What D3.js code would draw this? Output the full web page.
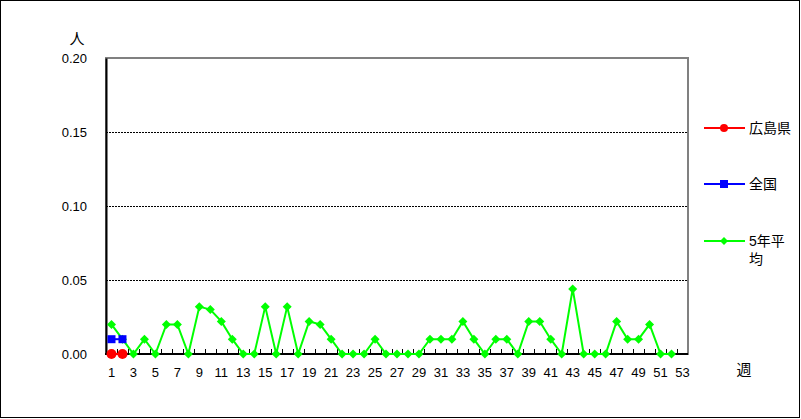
<!DOCTYPE html>
<html>
<head>
<meta charset="utf-8">
<script src="https://cdn.jsdelivr.net/npm/d3@7"></script>
<style>
body { margin: 0; background: #fff; }
text { font-family: "Liberation Sans", "Noto Sans CJK JP", sans-serif; }
</style>
</head>
<body>
<div id="chart"></div>
<script>
var width = 801;
var height = 419;

// data
var weeks = d3.range(1, 54);
var tickWeeks = weeks.filter(function(w) { return w % 2 == 1; });
var yTicks = [0, 0.05, 0.10, 0.15, 0.20];
var hiroshima = [0, 0];
var zenkoku = [0.01, 0.01];
var avg5 = [0.020, 0.010, 0, 0.010, 0, 0.020, 0.020, 0, 0.032, 0.030,
            0.022, 0.010, 0, 0, 0.032, 0, 0.032, 0, 0.022, 0.020,
            0.010, 0, 0, 0, 0.010, 0, 0, 0, 0, 0.010,
            0.010, 0.010, 0.022, 0.010, 0, 0.010, 0.010, 0, 0.022, 0.022,
            0.010, 0, 0.044, 0, 0, 0, 0.022, 0.010, 0.010, 0.020,
            0, 0];
var seriesNames = ["広島県", "全国", "5年平均"];

var plotL = 106, plotR = 688, plotT = 58, plotB = 354;

var svg = d3.select("#chart")
    .append("svg")
    .attr("width", width)
    .attr("height", height);

svg.append("rect")
    .attr("x", 0.5).attr("y", 0.5)
    .attr("width", width - 2).attr("height", height - 2)
    .attr("fill", "#fff").attr("stroke", "#000");

var x = d3.scaleBand()
    .domain(weeks)
    .range([plotL, plotR]);
var y = d3.scaleLinear()
    .domain([0, 0.2])
    .range([plotB, plotT]);

function cx(w) { return x(w) + x.bandwidth() / 2; }

// plot border (top/right grey)
svg.append("rect")
    .attr("x", plotL).attr("y", plotT)
    .attr("width", plotR - plotL).attr("height", plotB - plotT)
    .attr("fill", "none").attr("stroke", "#808080").attr("stroke-width", 2);

// grid lines
svg.append("g")
    .selectAll("line")
    .data(yTicks.slice(1, 4))
    .enter()
    .append("line")
    .attr("x1", plotL).attr("x2", plotR)
    .attr("y1", function(d) { return Math.round(y(d)) + 0.5; })
    .attr("y2", function(d) { return Math.round(y(d)) + 0.5; })
    .attr("stroke", "#000")
    .attr("stroke-dasharray", "2,1");

// y axis
var yAxis = svg.append("g")
    .attr("transform", "translate(" + plotL + ",0)")
    .call(d3.axisLeft(y).tickValues(yTicks).tickFormat(d3.format(".2f")).tickSize(0).tickPadding(19));
yAxis.select(".domain").attr("stroke", "#000").attr("stroke-width", 2);
yAxis.selectAll("text").attr("font-size", 13).attr("fill", "#000");

// x axis
var xAxis = svg.append("g")
    .attr("transform", "translate(0," + plotB + ")")
    .call(d3.axisBottom(x).tickValues(tickWeeks).tickSize(0).tickPadding(14));
xAxis.select(".domain").remove();
xAxis.selectAll("text").attr("font-size", 13).attr("fill", "#000");

svg.append("line")
    .attr("x1", plotL - 1).attr("x2", plotR)
    .attr("y1", plotB).attr("y2", plotB)
    .attr("stroke", "#000").attr("stroke-width", 2);

// minor ticks between categories
svg.append("g")
    .selectAll("line")
    .data(weeks.slice(1))
    .enter()
    .append("line")
    .attr("x1", function(d) { return Math.round(x(d)) + 0.5; })
    .attr("x2", function(d) { return Math.round(x(d)) + 0.5; })
    .attr("y1", plotB)
    .attr("y2", plotB - 5)
    .attr("stroke", "#000");

svg.append("text")
    .attr("x", 77).attr("y", 44)
    .attr("text-anchor", "middle")
    .attr("font-size", 15)
    .text("人");
svg.append("text")
    .attr("x", 744).attr("y", 375)
    .attr("text-anchor", "middle")
    .attr("font-size", 15)
    .text("週");

var line = d3.line()
    .x(function(d, i) { return cx(weeks[i]); })
    .y(function(d) { return y(d); });

// 5-year average
svg.append("path")
    .datum(avg5)
    .attr("d", line)
    .attr("fill", "none")
    .attr("stroke", "#00ff00")
    .attr("stroke-width", 2);
svg.append("g")
    .selectAll("path")
    .data(avg5)
    .enter()
    .append("path")
    .attr("transform", function(d, i) { return "translate(" + cx(weeks[i]) + "," + y(d) + ")"; })
    .attr("d", "M0,-4.5L4.5,0L0,4.5L-4.5,0Z")
    .attr("fill", "#00ff00");

// zenkoku
svg.append("path")
    .datum(zenkoku)
    .attr("d", line)
    .attr("fill", "none")
    .attr("stroke", "#0000ff")
    .attr("stroke-width", 2);
svg.append("g")
    .selectAll("rect")
    .data(zenkoku)
    .enter()
    .append("rect")
    .attr("x", function(d, i) { return cx(weeks[i]) - 4; })
    .attr("y", function(d) { return y(d) - 4; })
    .attr("width", 8).attr("height", 8)
    .attr("fill", "#0000ff");

// hiroshima
svg.append("path")
    .datum(hiroshima)
    .attr("d", line)
    .attr("fill", "none")
    .attr("stroke", "#ff0000")
    .attr("stroke-width", 2);
svg.append("g")
    .selectAll("circle")
    .data(hiroshima)
    .enter()
    .append("circle")
    .attr("cx", function(d, i) { return cx(weeks[i]); })
    .attr("cy", function(d) { return y(d); })
    .attr("r", 5)
    .attr("fill", "#ff0000");

// legend
var legY = [128, 184, 241];
var legColors = ["#ff0000", "#0000ff", "#00ff00"];
var leg = svg.append("g");
seriesNames.forEach(function(name, i) {
    leg.append("line")
        .attr("x1", 704).attr("x2", 745)
        .attr("y1", legY[i]).attr("y2", legY[i])
        .attr("stroke", legColors[i]).attr("stroke-width", 2);
    if (i == 0) {
        leg.append("circle").attr("cx", 724).attr("cy", legY[i]).attr("r", 4).attr("fill", legColors[i]);
    } else if (i == 1) {
        leg.append("rect").attr("x", 720).attr("y", legY[i] - 4).attr("width", 8).attr("height", 8).attr("fill", legColors[i]);
    } else {
        leg.append("path").attr("transform", "translate(724," + legY[i] + ")")
            .attr("d", "M0,-4L4,0L0,4L-4,0Z").attr("fill", legColors[i]);
    }
    var t = leg.append("text")
        .attr("x", 749).attr("y", legY[i] + 5)
        .attr("font-size", 14);
    if (i == 2) {
        t.append("tspan").attr("x", 749).text("5年平");
        t.append("tspan").attr("x", 749).attr("dy", 18).text("均");
    } else {
        t.text(name);
    }
});
</script>
</body>
</html>
